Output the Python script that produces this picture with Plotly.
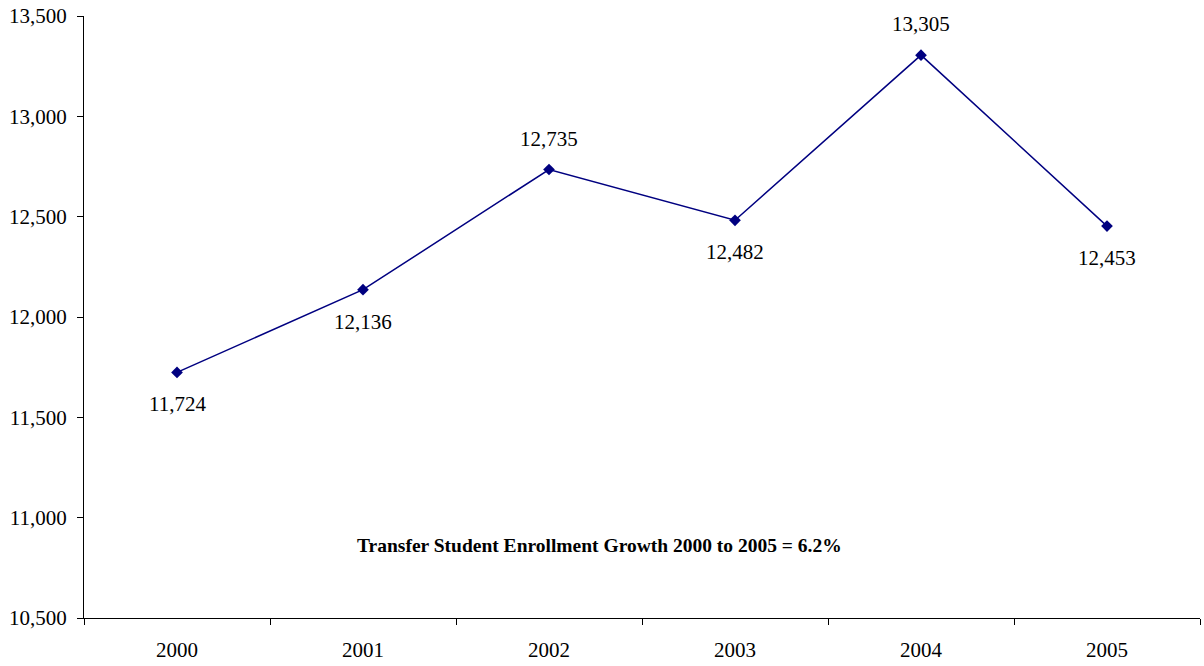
import plotly.graph_objects as go

years = ["2000", "2001", "2002", "2003", "2004", "2005"]
enrollment = [11724, 12136, 12735, 12482, 13305, 12453]
label_pos = ["below", "below", "above", "below", "above", "below"]
y_ticks = [10500, 11000, 11500, 12000, 12500, 13000, 13500]
note = "Transfer Student Enrollment Growth 2000 to 2005 = 6.2%"

FONT = "Liberation Serif, Times New Roman, serif"
NAVY = "#000080"

fig = go.Figure()
fig.add_trace(go.Scatter(
    x=years, y=enrollment, mode="lines+markers",
    line=dict(color=NAVY, width=1.5),
    marker=dict(symbol="diamond", size=9, color=NAVY),
    hoverinfo="skip", showlegend=False,
))

annotations = []
for i, (v, pos) in enumerate(zip(enrollment, label_pos)):
    annotations.append(dict(
        x=i, y=v, xref="x", yref="y", text=f"{v:,}", showarrow=False,
        yshift=31 if pos == "above" else -32,
        font=dict(family=FONT, size=21, color="black"),
    ))
annotations.append(dict(
    x=0.4615, y=0.099, xref="paper", yref="paper", text=f"<b>{note}</b>",
    showarrow=False, font=dict(family=FONT, size=19.5, color="black"),
))

fig.update_layout(
    width=1204, height=666,
    margin=dict(l=84, r=4, t=15, b=47),
    paper_bgcolor="white", plot_bgcolor="white",
    font=dict(family=FONT, size=21, color="black"),
    annotations=annotations,
)
fig.update_xaxes(
    type="category", tickson="boundaries", range=[-0.5, 5.5],
    showline=True, linecolor="black", linewidth=1,
    ticks="outside", ticklen=6, tickcolor="black", showgrid=False,
    tickfont=dict(family=FONT, size=21), zeroline=False,
    ticklabelstandoff=13,
)
fig.update_yaxes(
    range=[10500, 13500], tickvals=y_ticks,
    ticktext=[f"{t:,}" for t in y_ticks],
    showline=True, linecolor="black", linewidth=1,
    ticks="outside", ticklen=6, tickcolor="black", showgrid=False,
    tickfont=dict(family=FONT, size=21), zeroline=False,
    ticklabelstandoff=6,
)

fig.write_html("out.html")
